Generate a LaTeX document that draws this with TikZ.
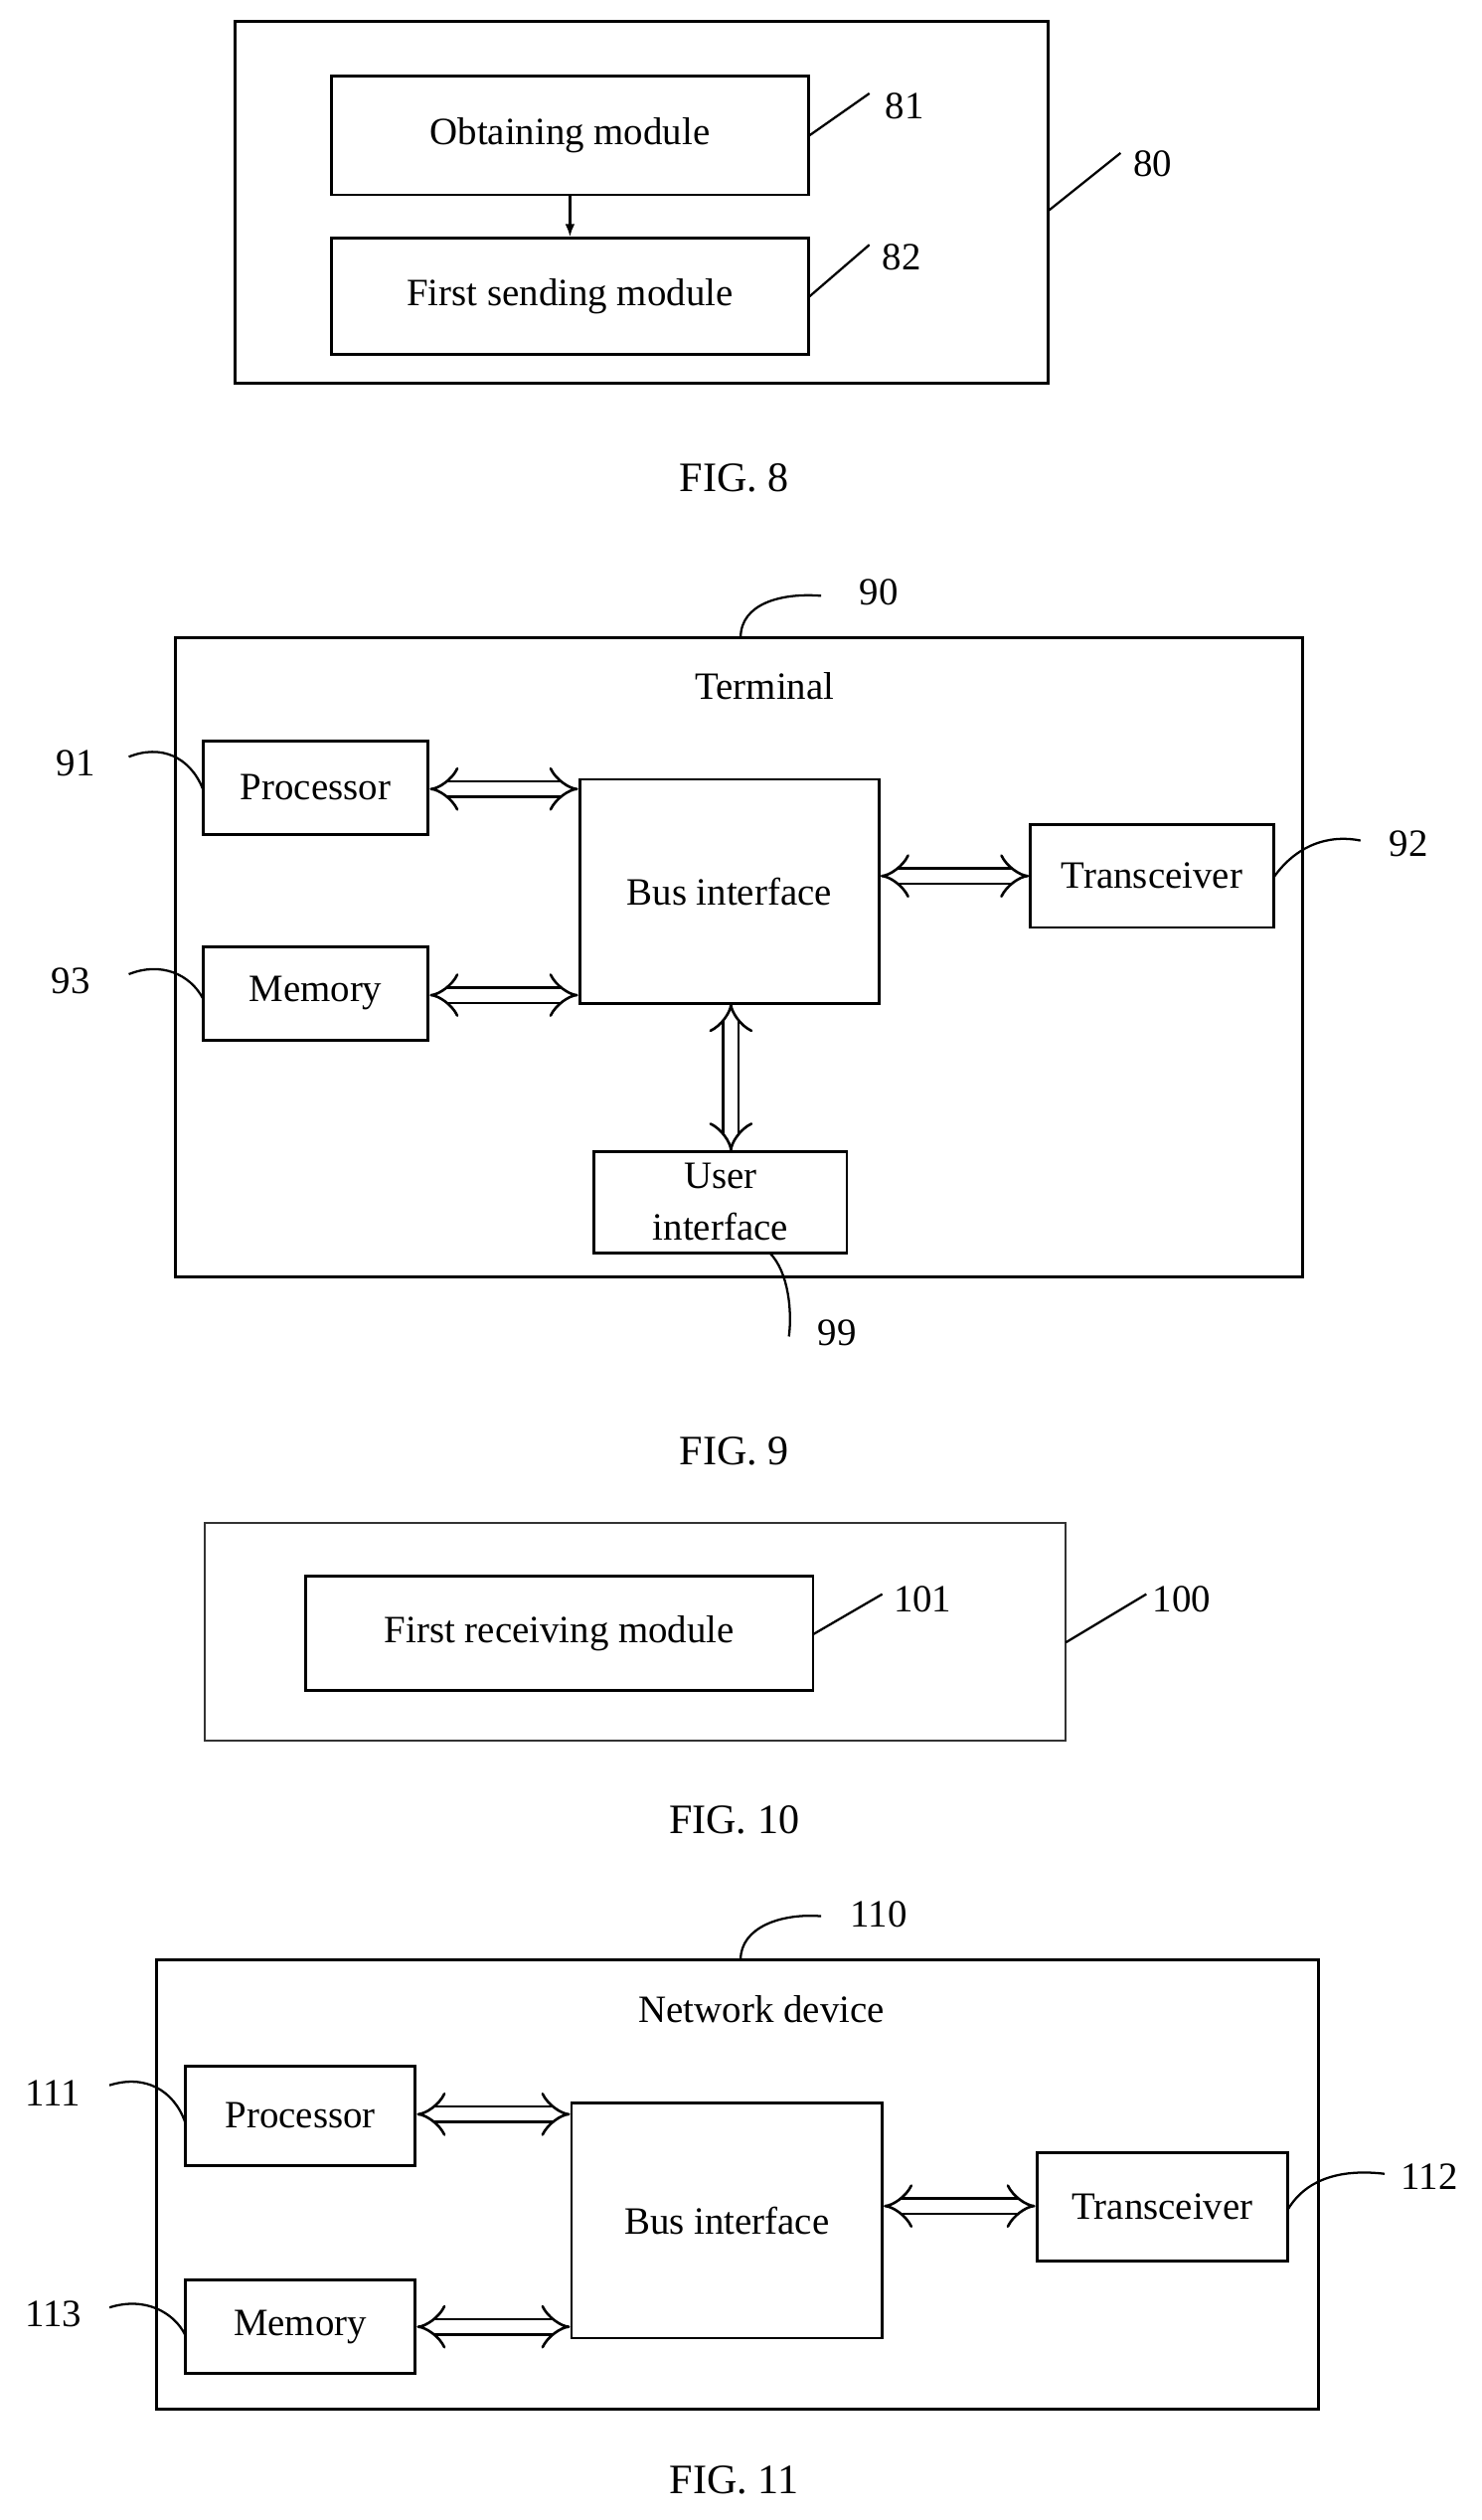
\documentclass[tikz,border=0pt]{standalone}
\usepackage{fontspec}
\setmainfont{Liberation Serif}
\usetikzlibrary{arrows.meta}
\begin{document}
\begin{tikzpicture}[x=0.5pt,y=-0.5pt,
  box/.style={draw,line width=0.9pt,minimum width=0,inner sep=0},
  lbl/.style={font=\fontsize{12}{13}\selectfont,align=center},
  num/.style={font=\fontsize{12}{13}\selectfont},
  fig/.style={font=\fontsize{13}{14}\selectfont},
  lead/.style={line width=0.7pt},
  dbl/.style={double,double distance=4pt,line width=0.8pt,{Implies[length=6pt]}-{Implies[length=6pt]}}]
\useasboundingbox (0,0) rectangle (920,1565);
% FIG 8
\draw[line width=0.9pt] (146,13) rectangle (651,238) coordinate (o80);
\node[box,minimum width=148pt,minimum height=37pt,lbl] (a81) at (354,84) {Obtaining module};
\node[box,minimum width=148pt,minimum height=36pt,lbl] (a82) at (354,184) {First sending module};
\draw[-{Latex[length=4pt]},lead] (a81) -- (a82);
\node[num] (n81) at (562,66) {81};
\node[num] (n82) at (560,160) {82};
\node[num] (n80) at (716,102) {80};
\coordinate (e80) at (651,131);
\draw[lead] (a81.east) -- (540,58);
\draw[lead] (a82.east) -- (540,152);
\draw[lead] (e80) -- (696,95);
\node[fig] (f8) at (456,297) {FIG. 8};
% FIG 9
\draw[line width=0.9pt] (109,396) rectangle (809,793);
\node[lbl] (t9) at (475,426) {Terminal};
\node[box,minimum width=70pt,minimum height=29pt,lbl] (p9) at (196,489) {Processor};
\node[box,minimum width=70pt,minimum height=29pt,lbl] (m9) at (196,617) {Memory};
\node[box,minimum width=93pt,minimum height=69.5pt,lbl] (b9) at (453,553.5) {Bus interface};
\node[box,minimum width=75.5pt,minimum height=32pt,lbl] (tr9) at (715.5,544) {Transceiver};
\node[box,minimum width=78.5pt,minimum height=31.5pt,lbl,font=\fontsize{12}{16}\selectfont] (u9) at (447.5,746.5) {User\\interface};
\draw[dbl] (p9.east|-0,490) -- (b9.west|-0,490);
\draw[dbl] (m9.east|-0,618) -- (b9.west|-0,618);
\draw[dbl] (b9.east|-0,544) -- (tr9.west|-0,544);
\draw[dbl] (454,623) -- (454,715);
\node[num] (n90) at (546,368) {90};
\node[num] (n91) at (47,474) {91};
\node[num] (n93) at (44,609) {93};
\node[num] (n92) at (875,524) {92};
\node[num] (n99) at (520,828) {99};
\draw[lead] (460,396) .. controls (460,375) and (485,368) .. (510,370);
\draw[lead] (80,470) .. controls (100,462) and (118,470) .. (126,490);
\draw[lead] (80,605) .. controls (100,597) and (118,605) .. (126,620);
\draw[lead] (791,545) .. controls (805,525) and (825,518) .. (845,522);
\draw[lead] (478,778) .. controls (490,790) and (492,815) .. (490,830);
\node[fig] (f9) at (456,901) {FIG. 9};
% FIG 10
\draw[line width=0.7pt,black!80] (127,946) rectangle (662,1081);
\node[box,minimum width=157.5pt,minimum height=35.5pt,lbl] (r101) at (347.5,1014.5) {First receiving module};
\node[num] (n101) at (573,993) {101};
\node[num] (n100) at (734,993) {100};
\draw[lead] (505,1015) -- (548,990);
\draw[lead] (662,1020) -- (712,990);
\node[fig] (f10) at (456,1130) {FIG. 10};
% FIG 11
\draw[line width=0.9pt] (97,1217) rectangle (819,1496);
\node[lbl] (t11) at (473,1248) {Network device};
\node[box,minimum width=71.5pt,minimum height=31pt,lbl] (p11) at (186.5,1314) {Processor};
\node[box,minimum width=71.5pt,minimum height=29pt,lbl] (m11) at (186.5,1445) {Memory};
\node[box,minimum width=96.5pt,minimum height=73pt,lbl] (b11) at (451.5,1379) {Bus interface};
\node[box,minimum width=78pt,minimum height=33.5pt,lbl] (tr11) at (722,1370.5) {Transceiver};
\draw[dbl] (p11.east|-0,1313) -- (b11.west|-0,1313);
\draw[dbl] (m11.east|-0,1445) -- (b11.west|-0,1445);
\draw[dbl] (b11.east|-0,1370) -- (tr11.west|-0,1370);
\node[num] (n110) at (546,1189) {110};
\node[num] (n111) at (33,1300) {111};
\node[num] (n113) at (33,1437) {113};
\node[num] (n112) at (888,1352) {112};
\draw[lead] (460,1217) .. controls (460,1197) and (485,1188) .. (510,1190);
\draw[lead] (68,1295) .. controls (90,1288) and (108,1298) .. (115,1318);
\draw[lead] (68,1433) .. controls (90,1426) and (108,1436) .. (115,1450);
\draw[lead] (800,1372) .. controls (812,1352) and (835,1347) .. (860,1350);
\node[fig] (f11) at (456,1540) {FIG. 11};
\end{tikzpicture}
\end{document}
